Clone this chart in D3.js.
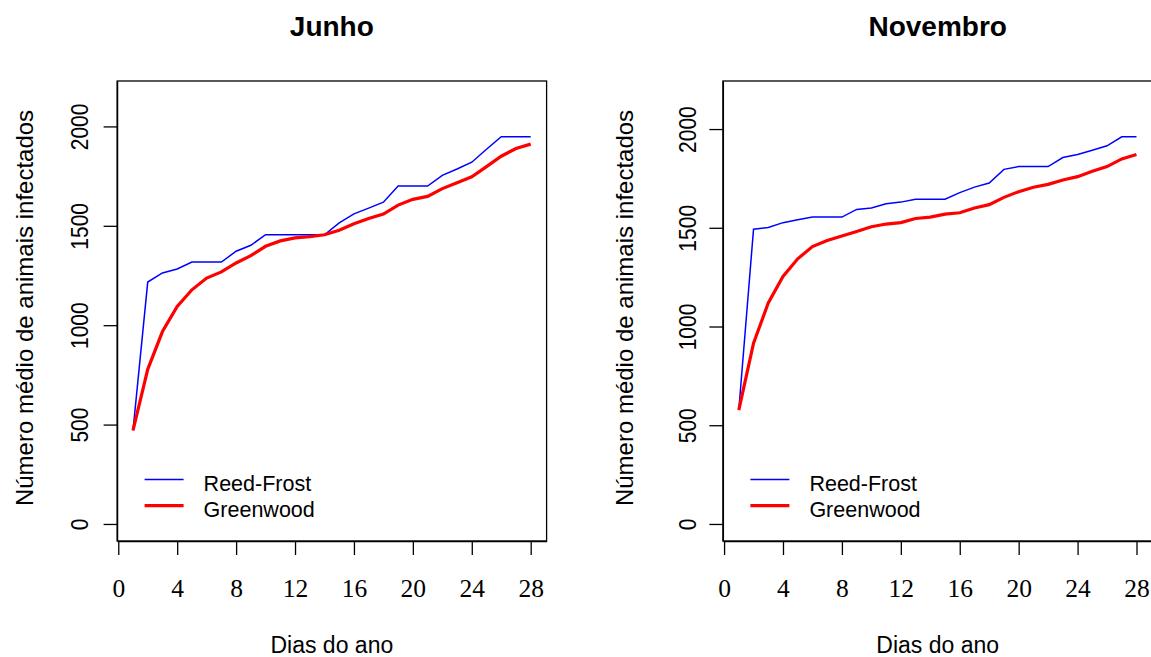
<!DOCTYPE html>
<html>
<head>
<meta charset="utf-8">
<script src="https://cdn.jsdelivr.net/npm/d3@7/dist/d3.min.js"></script>
<style>
  body { margin: 0; background: #fff; }
  text { font-family: "Liberation Sans", Arial, Helvetica, sans-serif; fill: #000; }
</style>
</head>
<body>
<div id="chart"></div>
<script>
// days of the year (x) and the tick labels
var days = [1, 2, 3, 4, 5, 6, 7, 8, 9, 10, 11, 12, 13, 14,
            15, 16, 17, 18, 19, 20, 21, 22, 23, 24, 25, 26, 27, 28];
var xTicks = [0, 4, 8, 12, 16, 20, 24, 28];
var yTicks = [0, 500, 1000, 1500, 2000];
var seriesNames = ["Reed-Frost", "Greenwood"];

// Junho
var junhoReedFrost = [471, 1217, 1263, 1283, 1318, 1318, 1318, 1372, 1402, 1455,
                      1455, 1455, 1455, 1455, 1515, 1560, 1589, 1619, 1700, 1700,
                      1700, 1754, 1786, 1820, 1885, 1948, 1948, 1948];
var junhoGreenwood = [471, 778, 968, 1094, 1178, 1237, 1268, 1313, 1350, 1397,
                      1424, 1439, 1446, 1455, 1478, 1510, 1537, 1559, 1604, 1633,
                      1648, 1687, 1717, 1747, 1798, 1850, 1889, 1911];

// Novembro
var novembroReedFrost = [577, 1493, 1502, 1526, 1541, 1554, 1554, 1554, 1593, 1600,
                         1622, 1630, 1645, 1645, 1645, 1678, 1706, 1727, 1796, 1810,
                         1810, 1810, 1856, 1871, 1893, 1915, 1961, 1961];
var novembroGreenwood = [577, 916, 1119, 1254, 1343, 1405, 1436, 1458, 1481, 1505,
                         1519, 1526, 1547, 1554, 1569, 1576, 1600, 1617, 1654, 1683,
                         1705, 1720, 1742, 1759, 1786, 1810, 1849, 1871];

var W = 1151, H = 657;
var plotW = 429.5, plotTop = 81, plotBottom = 541;

var panels = [
  { title: "Junho", rf: junhoReedFrost, gw: junhoGreenwood, left: 117.1, yLab: 33, tickGap: 29.4 },
  { title: "Novembro", rf: novembroReedFrost, gw: novembroGreenwood, left: 722.9, yLab: 633, tickGap: 26.6 }
];

var svg = d3.select("#chart").append("svg")
  .attr("width", W)
  .attr("height", H)
  .style("display", "block");

svg.append("rect").attr("width", W).attr("height", H).attr("fill", "#fff");

panels.forEach(function(p) {
  var g = svg.append("g");
  var right = p.left + plotW;

  // R style 4% padding on the axis ranges
  var xPad = 0.04 * (days[days.length - 1] - days[0]);
  var x = d3.scaleLinear()
    .domain([days[0] - xPad, days[days.length - 1] + xPad])
    .range([p.left, right]);

  var ymax = 1.1 * d3.max(p.rf.concat(p.gw));
  var y = d3.scaleLinear()
    .domain([-0.04 * ymax, 1.04 * ymax])
    .range([plotBottom, plotTop]);

  var xAxis = d3.axisBottom(x).tickValues(xTicks).tickSize(14).tickSizeOuter(0)
    .tickFormat(d3.format("d"));
  var yAxis = d3.axisLeft(y).tickValues(yTicks).tickSize(13.5).tickSizeOuter(0)
    .tickFormat(d3.format("d"));

  var gx = g.append("g")
    .attr("transform", "translate(0," + plotBottom + ")")
    .call(xAxis);
  gx.selectAll("line, path").attr("stroke", "#000").attr("stroke-width", 1.3);
  gx.selectAll("text")
    .attr("y", 55.7)
    .attr("dy", null)
    .style("font-family", "'Liberation Serif', 'Times New Roman', serif")
    .style("font-size", "25.5px")
    .attr("fill", "#000");

  var gy = g.append("g")
    .attr("transform", "translate(" + p.left + ",0)")
    .call(yAxis);
  gy.selectAll("line, path").attr("stroke", "#000").attr("stroke-width", 1.3);
  gy.selectAll("text")
    .attr("x", null)
    .attr("dy", null)
    .attr("text-anchor", "middle")
    .attr("transform", "translate(" + (-p.tickGap) + ",0) rotate(-90) scale(1,1.1)")
    .style("font-size", "21px")
    .attr("fill", "#000");

  // box
  g.append("rect")
    .attr("x", p.left)
    .attr("y", plotTop)
    .attr("width", plotW)
    .attr("height", plotBottom - plotTop)
    .attr("fill", "none")
    .attr("stroke", "#000")
    .attr("stroke-width", 1.3);

  var line = d3.line()
    .x(function(d, i) { return x(days[i]); })
    .y(function(d) { return y(d); });

  g.append("path")
    .datum(p.rf)
    .attr("d", line)
    .attr("fill", "none")
    .attr("stroke", "#0000ff")
    .attr("stroke-width", 1.5);

  g.append("path")
    .datum(p.gw)
    .attr("d", line)
    .attr("fill", "none")
    .attr("stroke", "#ff0000")
    .attr("stroke-width", 3.2);

  // titles and labels
  g.append("text")
    .attr("x", (p.left + right) / 2)
    .attr("y", 36)
    .attr("text-anchor", "middle")
    .style("font-size", "28px")
    .style("font-weight", "bold")
    .text(p.title);

  g.append("text")
    .attr("x", (p.left + right) / 2)
    .attr("y", 652.7)
    .attr("text-anchor", "middle")
    .style("font-size", "23px")
    .text("Dias do ano");

  g.append("text")
    .attr("transform", "translate(" + p.yLab + ",308) rotate(-90)")
    .attr("text-anchor", "middle")
    .style("font-size", "24px")
    .text("Número médio de animais infectados");

  // legend
  var legend = g.append("g").attr("transform", "translate(" + (p.left + 27.5) + ",0)");
  var legY = [479.5, 505.7];
  var legColors = ["#0000ff", "#ff0000"];
  var legWidths = [1.5, 3.2];
  seriesNames.forEach(function(name, i) {
    legend.append("line")
      .attr("x1", 0).attr("x2", 39)
      .attr("y1", legY[i]).attr("y2", legY[i])
      .attr("stroke", legColors[i])
      .attr("stroke-width", legWidths[i]);
    legend.append("text")
      .attr("x", 59)
      .attr("y", legY[i] + 11)
      .style("font-size", "21.5px")
      .text(name);
  });
});
</script>
</body>
</html>
